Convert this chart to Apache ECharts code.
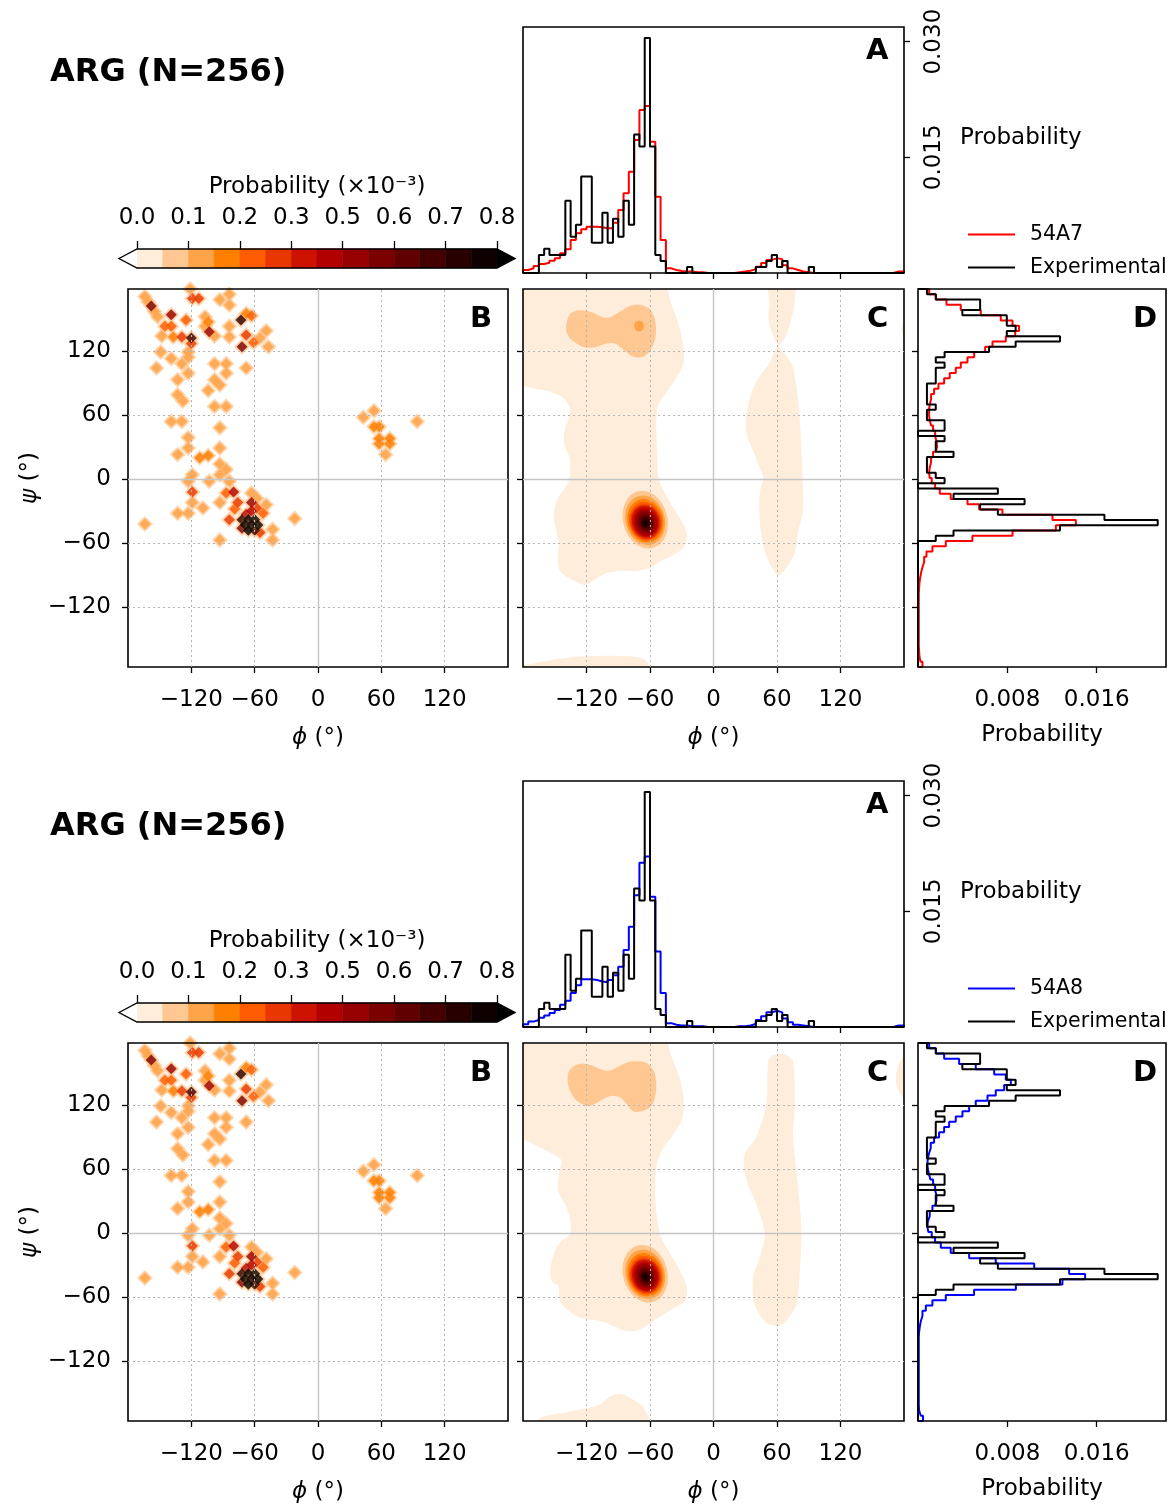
<!DOCTYPE html>
<html>
<head>
<meta charset="utf-8">
<script src="https://cdn.jsdelivr.net/npm/echarts@6/dist/echarts.min.js"></script>
<style>html,body{margin:0;padding:0;background:#fff}#c{width:1174px;height:1508px}</style>
</head>
<body>
<div id="c"></div>
<script>
// ---------------- DATA ----------------
const residueTitle = 'ARG (N=256)';
const simNames = ['54A7', '54A8'];
const simColors = ['#ff0000', '#0000ff'];
const expName = 'Experimental';

const phiTicks = [-120, -60, 0, 60, 120];
const psiTicks = [-120, -60, 0, 60, 120];
const probTicksA = [0.015, 0.030];
const probTicksD = [0.008, 0.016];
const probMaxA = 0.0319;
const probMaxD = 0.0222;
const psiRange = [-176, 178];

// phi histograms (5 deg bins starting at -180)
const phiStart = -180, phiBin = 5;
const expPhi = [
  0, 0, 0, .00234, .00313, .00234, .00234, .00234, .00938, .00469, .00625, .0125,
  .0125, .00391, .00391, .00781, .00391, .00703, .00469, .00938, .00625, .01797, .01641, .03047,
  .01641, .00234, .00156, 0, 0, 0, 0, .00078, 0, 0, 0, 0,
  0, 0, 0, 0, 0, 0, 0, 0, .00078, .00078, .00156, .00234,
  .00078, .00156, 0, 0, 0, 0, .00078, 0, 0, 0, 0, 0,
  0, 0, 0, 0, 0, 0, 0, 0, 0, 0, 0, 0
];
const a7Phi = [
  .00039, .00061, .00091, .00117, .00134, .0016, .0019, .00255, .00307, .00428, .00514, .00566,
  .00601, .00601, .00592, .00579, .00579, .00653, .00817, .01033, .01314, .01724, .02113, .02165,
  .01703, .0099, .00428, .0006, .0004, .00025, .0002, .0002, .0001, .0001, 0, 0,
  0, 0, 0, 0, .0001, .0002, .0003, .0005, .0008, .0013, .0017, .0019,
  .0018, .001, .0006, .0004, .0002, .0001, 0, 0, 0, 0, 0, 0,
  0, 0, 0, 0, 0, 0, 0, 0, 0, 0, .0002, .0002
];
const a8Phi = [
  .00035, .0007, .0009, .0012, .0015, .0018, .0022, .0029, .0034, .0044, .0054, .0062,
  .0062, .0061, .0059, .0058, .0061, .0067, .0078, .01, .013, .0171, .0213, .0221,
  .0169, .0098, .0044, .0005, .0003, .0002, .0002, .0001, .0001, .0001, 0, 0,
  0, 0, 0, 0, .0001, .0001, .0002, .0004, .0009, .0014, .0019, .0021,
  .0019, .0011, .0006, .0003, .0002, .0001, 0, 0, 0, 0, 0, 0,
  0, 0, 0, 0, 0, 0, 0, 0, 0, 0, .0002, .0002
];

// psi histograms, bins listed from the top of the axis downwards
const psiTop = 178, psiBin = 354 / 72;
const expPsi = [
  .0008, .00159, .00556, .00556, .00397, .00795, .00795, .00874, .00795, .01271, .00874, .00636,
  .00238, .00159, .00238, .00159, .00159, .00159, .0008, .0008, .0008, .0008, .00159, .0008,
  .0008, .00238, .00238, 0, .00238, .00159, .00159, .00318, .0008, .0008, .0008, .00159,
  .00238, 0, .00715, .00318, .00954, .00556, .00715, .01669, .02146, .01271, .00318, .00159,
  0, 0, 0, 0, 0, 0, 0, 0, 0, 0, 0, 0,
  0, 0, 0, 0, 0, 0, 0, 0, 0, 0, 0, 0
];
const a7Psi = [
  .001, .0016, .00255, .00383, .00562, .00741, .00846, .00905, .0087, .00786, .00667, .00601,
  .00503, .00443, .00383, .00338, .00284, .00234, .00183, .00144, .00117, .00105, .00099, .00099,
  .00105, .00117, .00135, .00153, .00165, .00171, .00159, .00135, .00117, .00105, .00099, .00105,
  .00123, .00153, .00195, .00293, .00443, .00547, .00756, .01204, .01413, .01234, .00846, .00487,
  .00249, .00129, .00076, .00055, .0004, .00028, .00019, .00013, .0001, .00007, .00007, .00007,
  .00007, .00007, .00007, .00007, .00007, .00007, .00007, .00007, .0001, .00013, .00022, .0004
];
const a8Psi = [
  .001, .0016, .00234, .00368, .00517, .00682, .00786, .00831, .00771, .00696, .00622, .00517,
  .00458, .00398, .00338, .00279, .00234, .00189, .00144, .00114, .00099, .00088, .00084, .00088,
  .00099, .00111, .00135, .00153, .00165, .00165, .00153, .00129, .00105, .00088, .00084, .00093,
  .00123, .00153, .00204, .00293, .00458, .00696, .0104, .01353, .01496, .01293, .00876, .00502,
  .00249, .00129, .0007, .0004, .00025, .00016, .0001, .00007, .00007, .00007, .00007, .00007,
  .00007, .00007, .00007, .00007, .00007, .00007, .00007, .00007, .00007, .0001, .00025, .00045
];

// experimental 2D histogram cells: [phi, psi, probability x1e-3]
const expCells = [
  [-164,171,.16],[-161,166,.16],[-158,162,.55],[-155,157,.16],[-152,152,.16],
  [-139,154,.5],[-145,143,.27],[-139,143,.27],[-148,134,.16],[-137,133,.2],[-129,133,.3],[-125,149,.27],
  [-120,132,.65],[-120,127,.3],[-123,119,.16],[-123,114,.16],
  [-121,178,.16],[-119,169,.3],[-113,169,.3],
  [-107,152,.16],[-104,147,.2],[-107,143,.16],[-103,138,.5],[-98,134,.16],
  [-93,168,.16],[-84,173,.16],[-84,163,.16],
  [-73,149,.7],[-68,155,.2],[-63,153,.27],[-84,143,.16],[-84,133,.16],[-68,135,.3],[-72,124,.55],[-61,128,.27],
  [-49,139,.16],[-55,132,.16],[-47,124,.16],
  [-149,119,.16],[-139,113,.16],[-129,108,.16],[-153,104,.16],[-98,108,.16],[-87,108,.16],[-123,99,.16],[-87,99,.16],[-68,104,.16],
  [-133,93,.16],[-104,83,.16],[-98,93,.16],[-93,88,.16],[-133,79,.16],[-128,73,.16],[-98,68,.16],[-87,68,.16],
  [-139,54,.16],[-129,54,.16],[-93,48,.16],[-123,39,.16],[-123,29,.16],[-93,29,.16],[-133,23,.16],[-112,20,.2],[-104,22,.2],
  [-93,14,.16],[-87,9,.16],[-119,4,.16],[-93,4,.16],
  [-123,-2,.16],[-103,-2,.16],[-84,-2,.16],
  [-119,-12,.3],[-119,-22,.16],[-109,-27,.16],[-93,-22,.16],[-133,-32,.16],[-123,-32,.16],[-164,-42,.16],[-93,-57,.16],
  [-87,-13,.27],[-80,-12,.4],[-76,-22,.3],[-84,-38,.3],[-79,-28,.25],
  [-63,-13,.16],[-58,-18,.16],[-63,-22,.5],[-58,-27,.3],[-52,-32,.27],[-49,-24,.16],
  [-68,-33,.4],[-63,-30,.45],
  [-72,-38,.7],[-66,-38,.9],[-60,-38,.8],[-69,-43,.9],[-63,-43,.9],[-57,-43,.8],[-66,-48,.9],[-60,-48,.7],[-72,-46,.55],[-55,-50,.3],
  [-43,-47,.16],[-43,-57,.16],[-22,-37,.16],
  [43,58,.16],[53,64,.16],[53,49,.2],[58,49,.2],[58,33,.2],[58,38,.2],[68,33,.2],[68,38,.2],[64,23,.16],[94,54,.16]
];

// simulation density contours (phi, psi outlines per filled level)
const a7Level0 = [
  [[-186,186],[-49,186],[-40,164],[-33,145],[-29,126],[-28,110],[-35,95],[-44,82],[-52,70],[-54,57],[-54,42],[-53,20],[-52,1],[-47,-11],[-40,-24],[-32,-36],[-25,-52],[-28,-64],[-38,-71],[-50,-77],[-60,-83],[-73,-86],[-88,-86],[-101,-88],[-110,-93],[-120,-99],[-128,-97],[-136,-93],[-145,-86],[-147,-74],[-146,-61],[-150,-42],[-151,-33],[-147,-18],[-140,-8],[-136,1],[-136,20],[-141,32],[-141,45],[-137,57],[-136,67],[-142,76],[-155,82],[-170,85],[-186,92]],
  [[52.8,186],[76.2,186],[76.2,163],[73,148],[67.6,132],[62,124],[67.6,117],[74,107],[77,95],[80,73],[82,48],[83.4,20],[84.4,-5],[84.4,-30],[80,-49],[77,-68],[69,-83],[61,-90],[52,-77],[45.5,-55],[43.3,-30],[44,-11],[47,1],[44,10],[37.6,26],[31.3,42],[30.7,57],[34.5,76],[40.8,92],[51.8,107],[58,120],[61,124],[56,135],[52,150],[52.8,163]],
  [[-186,-186],[-186,-175],[-176,-174],[-151,-169],[-120,-166],[-79,-166],[-64,-170],[-58,-186]],
  [[186,154],[179,146],[178,138],[186,128]]
];
const a7Level1 = [
  [[-139,145],[-136,154],[-128,158],[-117,157],[-101,151],[-88,157],[-79,162],[-69,163],[-60,159],[-55,148],[-55,132],[-60,120],[-68,114],[-77,115],[-85,121],[-93,127],[-101,127],[-110,124],[-120,123],[-128,126],[-136,132],[-139,139]]
];
const a8Level0 = [
  [[-186,186],[-48.9,186],[-39.5,164.5],[-32.2,145.8],[-28.5,127],[-29.1,108.5],[-37.9,92.6],[-47.3,80.2],[-53.6,64.5],[-55.1,45.8],[-54.2,20.8],[-50.5,-1.1],[-42.6,-16.7],[-33.2,-32.3],[-25.3,-51],[-26.9,-63.6],[-36.3,-69.8],[-47.3,-76],[-56.7,-82.3],[-69.4,-90.2],[-82,-91.7],[-94.6,-87],[-107.2,-82.3],[-119.8,-80.8],[-129.3,-77.6],[-138.8,-71.4],[-145,-63.6],[-146.6,-49.5],[-152.9,-44.8],[-153.9,-32.3],[-149.8,-16.7],[-143.5,-7.3],[-135.6,-1.1],[-135.6,14.5],[-140.3,27],[-146.6,39.5],[-145.7,58.3],[-143.5,67.7],[-151.4,74],[-163.9,80.2],[-176.5,86.4],[-186,90]],
  [[51.5,160],[55,166],[62.5,168],[70,166],[75.2,160],[76.8,121],[75.2,90],[78.3,58],[81.5,27],[83.1,-4],[81.5,-36],[78.3,-67],[68.9,-82],[61,-87],[50,-84],[38.9,-67],[37.3,-42],[43.6,-23],[48.4,-4],[46.8,8],[40.5,27],[32.5,46],[28.4,64.5],[31,77],[40.5,90],[50,121]],
  [[-172,-186],[-165,-174],[-151,-170],[-120,-164],[-107,-160.5],[-98,-153],[-88,-150.5],[-76,-156],[-66,-163.6],[-60,-186]],
  [[186,170],[176,160],[172.5,148],[174,135],[186,120]]
];
const a8Level1 = [
  [[-136.3,152],[-127.7,158.3],[-116.7,157.6],[-107.2,153.6],[-99.3,152],[-91.5,155.1],[-82,159.8],[-71,160.8],[-61.6,158.3],[-55.3,148.9],[-54.2,133.3],[-58.4,119.2],[-66.3,114.5],[-75.8,113.9],[-82,120.8],[-88.4,127],[-96.2,128.6],[-104.1,125.5],[-112,120.8],[-119.8,119.2],[-129.3,123.9],[-135.6,133.3],[-137.9,142.6]]
];
// nested alpha-helix peak contours: [phi, psi, half-width, half-height, tilt deg, level]
const alphaPeak = [
  [-64.5,-38,21,27.5,15,1],[-64.5,-38.5,18.5,23.5,15,2],[-64.3,-39,16.8,20.5,15,3],[-64.2,-39.5,15.4,18.3,15,4],
  [-64.2,-40,14.2,16.5,15,5],[-64.2,-40,12.8,15,15,6],[-64,-40.5,11.2,13.3,15,7],[-64,-40.5,9.5,11.5,15,8],
  [-64,-40.5,7.8,9.6,15,9],[-64,-41,6.2,7.7,15,10],[-64,-41,4.6,5.8,15,11],[-64,-41,3.1,4,15,12],[-64,-41,1.6,2.1,15,13]
];
const a7BetaDot = [[-70.4,143.3,4.7,5.2,0,2]];

// colour scale
const cbLevels = [0, 0.0571, 0.1143, 0.1714, 0.2286, 0.2857, 0.3429, 0.4, 0.4571, 0.5143, 0.5714, 0.6286, 0.6857, 0.7429, 0.8];
const cbTickValues = [0, 0.1143, 0.2286, 0.3429, 0.4571, 0.5714, 0.6857, 0.8];
const cbTickLabels = ['0.0', '0.1', '0.2', '0.3', '0.5', '0.6', '0.7', '0.8'];
const heatColors = ['#ffeddb','#ffc892','#ffa449','#ff8000','#ff5b00','#e83700','#cd1200','#b20000','#960000','#7b0000','#600000','#440000','#290000','#0e0000'];
const overColor = '#000000', underColor = '#ffffff';
const cbExtend = 0.04;

// ---------------- BUILD ----------------
const FONT = 'DejaVu Sans';
const chart = echarts.init(document.getElementById('c'), null, {renderer: 'canvas', width: 1174, height: 1508});
const option = {animation: false, backgroundColor: '#ffffff', textStyle: {fontFamily: FONT},
  grid: [], xAxis: [], yAxis: [], series: [], legend: [], graphic: [], visualMap: []};
const cellSeries = [];

function degFmt(v) { return v < 0 ? '\u2212' + Math.abs(v) : String(v); }
function addGrid(g) {
  option.grid.push(Object.assign({show: true, borderColor: '#000', borderWidth: 1.6, z: 5, containLabel: false, outerBoundsMode: 'none'}, g));
  return option.grid.length - 1;
}
function tickCfg(vals, len) { return {show: true, inside: false, length: len || 6, customValues: vals, lineStyle: {color: '#000', width: 1.3}}; }
function lblCfg(vals, extra) { return Object.assign({show: true, customValues: vals, color: '#000', fontFamily: FONT, fontSize: 23}, extra || {}); }
const nameStyle = {color: '#000', fontFamily: FONT, fontSize: 23, rich: {i: {fontStyle: 'italic', fontFamily: FONT, fontSize: 23, color: '#000'}}};
function xAx(o) { option.xAxis.push(Object.assign({type: 'value', axisLine: {show: false, onZero: false}, splitLine: {show: false}}, o)); }
function yAx(o) { option.yAxis.push(Object.assign({type: 'value', axisLine: {show: false, onZero: false}, splitLine: {show: false}}, o)); }

function stepPhi(vals) {
  const p = [[phiStart, 0]];
  vals.forEach((v, i) => { p.push([phiStart + i * phiBin, v], [phiStart + (i + 1) * phiBin, v]); });
  p.push([phiStart + vals.length * phiBin, 0]);
  return p;
}
function stepPsi(vals) {
  const p = [[0, psiTop]];
  vals.forEach((v, j) => { p.push([v, psiTop - j * psiBin], [v, psiTop - (j + 1) * psiBin]); });
  p.push([0, psiTop - vals.length * psiBin]);
  return p;
}
function lineSeries(name, g, data, color, z) {
  return {type: 'line', name, xAxisIndex: g, yAxisIndex: g, data, showSymbol: false, symbol: 'none',
    lineStyle: {color, width: 2}, itemStyle: {color}, z, silent: true, animation: false};
}
function gridLines(g) {
  const dotted = {color: '#b4b4b4', width: 1, type: [2, 3]};
  const solid = {color: '#c4c4c4', width: 1.4, type: 'solid'};
  const data = [];
  phiTicks.forEach(v => data.push({xAxis: v, lineStyle: v === 0 ? solid : dotted}));
  psiTicks.forEach(v => data.push({yAxis: v, lineStyle: v === 0 ? solid : dotted}));
  return {type: 'line', xAxisIndex: g, yAxisIndex: g, data: [], z: 4, silent: true,
    markLine: {silent: true, symbol: ['none', 'none'], label: {show: false}, emphasis: {disabled: true}, animation: false, data}};
}
function polySeries(g, pts, color, z) {
  return {type: 'custom', xAxisIndex: g, yAxisIndex: g, clip: true, silent: true, z, data: pts, encode: {x: 0, y: 1},
    renderItem(params, api) {
      if (params.dataIndex !== 0) return null;
      return {type: 'polygon', shape: {points: pts.map(p => api.coord(p)), smooth: 0.3}, style: {fill: color}};
    }};
}
function ringSeries(g, rings, z) {
  return {type: 'custom', xAxisIndex: g, yAxisIndex: g, clip: true, silent: true, z, data: rings, encode: {x: 0, y: 1},
    renderItem(params, api) {
      const c = api.coord([api.value(0), api.value(1)]);
      const s = api.size([api.value(2), api.value(3)]);
      return {type: 'circle', x: c[0], y: c[1], rotation: api.value(4) * Math.PI / 180, scaleY: s[1] / s[0],
        shape: {cx: 0, cy: 0, r: s[0]}, style: {fill: heatColors[api.value(5)]}};
    }};
}
function text(t, left, top, size, bold) {
  option.graphic.push({type: 'text', left, top, silent: true, z: 20,
    style: {text: t, fontFamily: FONT, fontSize: size, fontWeight: bold ? 'bold' : 'normal', fill: '#000'}});
}

function buildHalf(off, k, simPhi, simPsi, level0, level1, extraBlobs) {
  const simName = simNames[k], simColor = simColors[k];
  text(residueTitle, 50, 57 + off, 32, true);

  // colour bar
  const gCB = addGrid({left: 137, top: 249 + off, width: 360, height: 19, show: false});
  xAx({gridIndex: gCB, min: 0, max: 0.8, position: 'top', axisTick: tickCfg(cbTickValues, 8),
    axisLabel: lblCfg(cbTickValues, {margin: 19, formatter: v => {
      let b = 0; cbTickValues.forEach((t, i) => { if (Math.abs(t - v) < Math.abs(cbTickValues[b] - v)) b = i; });
      return cbTickLabels[b]; }}),
    name: 'Probability (\u00d710\u207b\u00b3)', nameLocation: 'middle', nameGap: 50, nameTextStyle: nameStyle});
  yAx({gridIndex: gCB, min: 0, max: 1, show: false});
  option.series.push({type: 'custom', xAxisIndex: gCB, yAxisIndex: gCB, silent: true, clip: false, z: 3,
    data: cbLevels.slice(0, -1).map((v, i) => [v, cbLevels[i + 1], i]),
    renderItem(params, api) {
      const p0 = api.coord([api.value(0), 0]), p1 = api.coord([api.value(1), 1]);
      const col = heatColors[api.value(2)];
      return {type: 'rect', shape: {x: p0[0], y: p1[1], width: p1[0] - p0[0], height: p0[1] - p1[1]},
        style: {fill: col, stroke: col, lineWidth: 0.6}};
    }});
  option.series.push({type: 'custom', xAxisIndex: gCB, yAxisIndex: gCB, silent: true, clip: false, z: 4,
    data: [[0, 0]],
    renderItem(params, api) {
      const c = p => api.coord(p);
      const lo = cbLevels[0], hi = cbLevels[cbLevels.length - 1];
      return {type: 'group', children: [
        {type: 'polygon', shape: {points: [c([lo - cbExtend, 0.5]), c([lo, 1]), c([lo, 0])]}, style: {fill: underColor}},
        {type: 'polygon', shape: {points: [c([hi, 1]), c([hi + cbExtend, 0.5]), c([hi, 0])]}, style: {fill: overColor}},
        {type: 'polygon', shape: {points: [c([lo - cbExtend, 0.5]), c([lo, 1]), c([hi, 1]), c([hi + cbExtend, 0.5]), c([hi, 0]), c([lo, 0])]},
          style: {fill: 'none', stroke: '#000', lineWidth: 1.4}}
      ]};
    }});

  // A: phi marginal
  const gA = addGrid({left: 523, top: 27 + off, width: 381, height: 246});
  xAx({gridIndex: gA, min: -180, max: 180, axisTick: tickCfg(phiTicks), axisLabel: {show: false}});
  yAx({gridIndex: gA, position: 'right', min: 0, max: probMaxA, axisTick: tickCfg(probTicksA),
    axisLabel: lblCfg(probTicksA, {rotate: 90, margin: 19, formatter: v => v.toFixed(3)})});
  option.series.push(lineSeries(simName, gA, stepPhi(simPhi), simColor, 2));
  option.series.push(lineSeries(expName, gA, stepPhi(expPhi), '#000', 3));
  text('A', 866, 37 + off, 29, true);
  text('Probability', 960, 127 + off, 23, false);
  option.legend.push({data: [simName, expName], orient: 'vertical', left: 962, top: 219 + off, itemWidth: 47, itemHeight: 20,
    itemGap: 12, selectedMode: false, itemStyle: {opacity: 0, borderWidth: 0},
    textStyle: {fontSize: 20.5, fontFamily: FONT, color: '#000', padding: [0, 0, 0, 10]}});

  // B: experimental 2D histogram
  const gB = addGrid({left: 128, top: 289 + off, width: 380, height: 378});
  xAx({gridIndex: gB, min: -180, max: 180, axisTick: tickCfg(phiTicks), axisLabel: lblCfg(phiTicks, {margin: 22, formatter: degFmt}),
    name: '{i|\u03d5} (\u00b0)', nameLocation: 'middle', nameGap: 60, nameTextStyle: nameStyle});
  yAx({gridIndex: gB, min: psiRange[0], max: psiRange[1], axisTick: tickCfg(psiTicks), axisLabel: lblCfg(psiTicks, {margin: 17, formatter: degFmt}),
    name: '{i|\u03c8} (\u00b0)', nameLocation: 'middle', nameGap: 86, nameTextStyle: nameStyle});
  const sortedCells = expCells.slice().sort((a, b) => a[2] - b[2]);
  option.series.push({type: 'scatter', xAxisIndex: gB, yAxisIndex: gB, silent: true, clip: true, z: 1,
    data: sortedCells, symbol: 'diamond', symbolSize: 16,
    itemStyle: {color: '#ffd2a6', opacity: 0.85}});
  cellSeries.push(option.series.length);
  option.series.push({type: 'scatter', xAxisIndex: gB, yAxisIndex: gB, silent: true, clip: true, z: 2,
    data: sortedCells, symbol: 'diamond', symbolSize: 11,
    itemStyle: {shadowBlur: 3, shadowColor: 'rgba(255,170,100,0.6)'}});
  option.series.push(gridLines(gB));
  text('B', 470, 305 + off, 29, true);

  // C: simulation density
  const gC = addGrid({left: 523, top: 289 + off, width: 381, height: 378});
  xAx({gridIndex: gC, min: -180, max: 180, axisTick: tickCfg(phiTicks), axisLabel: lblCfg(phiTicks, {margin: 22, formatter: degFmt}),
    name: '{i|\u03d5} (\u00b0)', nameLocation: 'middle', nameGap: 60, nameTextStyle: nameStyle});
  yAx({gridIndex: gC, min: psiRange[0], max: psiRange[1], axisTick: tickCfg(psiTicks), axisLabel: {show: false}});
  level0.forEach(p => option.series.push(polySeries(gC, p, heatColors[0], 1)));
  level1.forEach(p => option.series.push(polySeries(gC, p, heatColors[1], 2)));
  option.series.push(ringSeries(gC, extraBlobs.concat(alphaPeak), 3));
  option.series.push(gridLines(gC));
  text('C', 867, 305 + off, 29, true);

  // D: psi marginal
  const gD = addGrid({left: 918, top: 289 + off, width: 248, height: 378});
  xAx({gridIndex: gD, min: 0, max: probMaxD, axisTick: tickCfg(probTicksD), axisLabel: lblCfg(probTicksD, {margin: 22}),
    name: 'Probability', nameLocation: 'middle', nameGap: 57, nameTextStyle: nameStyle});
  yAx({gridIndex: gD, min: psiRange[0], max: psiRange[1], axisTick: tickCfg(psiTicks), axisLabel: {show: false}});
  option.series.push(lineSeries(simName, gD, stepPsi(simPsi), simColor, 2));
  option.series.push(lineSeries(expName, gD, stepPsi(expPsi), '#000', 3));
  text('D', 1133, 305 + off, 29, true);
}

buildHalf(0, 0, a7Phi, a7Psi, a7Level0, a7Level1, a7BetaDot);
buildHalf(754, 1, a8Phi, a8Psi, a8Level0, a8Level1, []);

option.visualMap.push({type: 'piecewise', show: false, dimension: 2, seriesIndex: cellSeries,
  pieces: cbLevels.slice(0, -1).map((v, i) => ({gte: v, lt: cbLevels[i + 1], color: heatColors[i]})).concat([{gte: 0.8, color: overColor}])});

chart.setOption(option);
</script>
</body>
</html>
